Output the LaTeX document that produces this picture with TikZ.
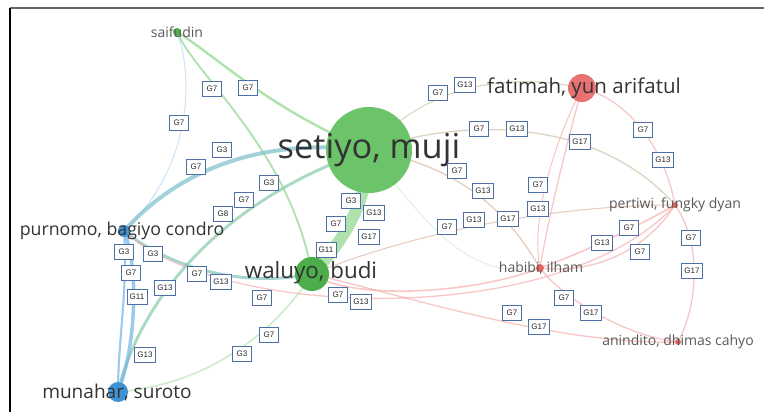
\documentclass[tikz,border=0pt]{standalone}
\usepackage{fontspec}
\setmainfont{Open Sans}
\newfontfamily\tagfont{Liberation Sans}
\usetikzlibrary{positioning}
\pgfdeclarelayer{background}
\pgfsetlayers{background,main}

\definecolor{vgreen}{HTML}{6CC46A}
\definecolor{vdkgreen}{HTML}{4CAE4A}
\definecolor{vblue}{HTML}{3F93D4}
\definecolor{vred}{HTML}{E56464}
\definecolor{glink}{HTML}{8ED58B}
\definecolor{blink}{HTML}{72B4E6}
\definecolor{rlink}{HTML}{F1A3A0}
\definecolor{olink}{HTML}{CFC2A6}
\definecolor{tagblue}{HTML}{4E6FA6}
\definecolor{nametext}{HTML}{333333}

\begin{document}
\begin{tikzpicture}[x=0.75pt, y=-0.75pt,
    author/.style={circle, inner sep=0pt, minimum size=#1},
    authorname/.style={font=\fontsize{#1}{#1}\selectfont, text=nametext},
    tag/.style={draw=tagblue, fill=white, line width=0.5pt, inner xsep=2pt, inner ysep=0pt,
      minimum height=11.5pt, minimum width=14.5pt, text=black!85, font=\tagfont\fontsize{6}{6}\selectfont},
    link/.style={line cap=round, opacity=0.7},
    redlink/.style={line cap=round, rlink, opacity=0.6}]
    \useasboundingbox (0,0) rectangle (764,412);

    % Frame
    \draw[black!60, line width=1.2pt] (10,8) -- (764,8);
    \draw[black, line width=0.8pt] (10,8) -- (10,412);

    % Authors
    \node[author=64.5pt, fill=vgreen] (setiyo) at (369,150) {};
    \node[author=21pt, fill=vred, opacity=0.9] (fatimah) at (582,88) {};
    \node[author=25.5pt, fill=vdkgreen] (waluyo) at (312,274) {};
    \node[author=9pt, fill=vblue] (purnomo) at (124,231) {};
    \node[author=15pt, fill=vblue] (munahar) at (118,392) {};
    \node[author=6pt, fill=vdkgreen] (saifudin) at (177,32) {};
    \node[author=4.5pt, fill=vred] (pertiwi) at (675,205) {};
    \node[author=6pt, fill=vred] (habibi) at (540,268) {};
    \node[author=4.5pt, fill=vred] (anindito) at (678,342) {};

    % Links
    \begin{pgfonlayer}{background}
      % green cluster
      \draw[link, glink, line width=1.8pt] (saifudin.center) .. controls (215,55) and (270,110) .. (setiyo.center);
      \draw[link, glink, line width=1.4pt] (saifudin.center) .. controls (195,75) and (290,150) .. (waluyo.center);
      \draw[link, blink!50, line width=0.8pt] (saifudin.center) .. controls (195,80) and (190,170) .. (purnomo.center);
      \draw[link, glink, line width=9pt] (waluyo.center) .. controls (345,240) and (368,200) .. (setiyo.center);
      \draw[link, glink!70!blink, line width=2.2pt] (munahar.center) .. controls (140,300) and (220,200) .. (setiyo.center);
      \draw[link, glink!60!white, line width=1.3pt] (munahar.center) .. controls (200,385) and (270,340) .. (waluyo.center);
      \draw[link, olink, line width=0.8pt] (setiyo.center) .. controls (420,90) and (500,70) .. (fatimah.center);
      \draw[link, olink, line width=1pt] (setiyo.center) .. controls (470,115) and (600,120) .. (pertiwi.center);
      \draw[link, olink!70!rlink, line width=1pt] (setiyo.center) .. controls (450,165) and (500,200) .. (habibi.center);
      \draw[link, glink!40!white, line width=0.8pt] (setiyo.center) .. controls (430,230) and (470,280) .. (habibi.center);
      % blue cluster
      \draw[link, blink!70!glink, line width=3pt] (purnomo.center) .. controls (165,185) and (240,135) .. (setiyo.center);
      \draw[link, blink, line width=2.6pt] (purnomo.center) .. controls (140,270) and (135,350) .. (munahar.center);
      \draw[link, blink, line width=1.6pt] (purnomo.center) .. controls (128,290) and (118,340) .. (munahar.center);
      \draw[link, blink!50!glink, line width=2.2pt] (purnomo.center) .. controls (160,260) and (230,290) .. (waluyo.center);
      \draw[redlink, line width=1pt] (purnomo.center) .. controls (220,320) and (560,330) .. (pertiwi.center);
      % red cluster
      \draw[link, olink!60!rlink, line width=0.8pt] (waluyo.center) .. controls (420,230) and (560,205) .. (pertiwi.center);
      \draw[redlink, line width=1.2pt] (waluyo.center) .. controls (350,300) and (470,295) .. (habibi.center);
      \draw[redlink, line width=1pt] (waluyo.center) .. controls (420,300) and (560,345) .. (anindito.center);
      \draw[redlink, line width=1pt] (fatimah.center) .. controls (565,150) and (548,220) .. (habibi.center);
      \draw[redlink, line width=0.8pt] (fatimah.center) .. controls (555,140) and (530,220) .. (habibi.center);
      \draw[redlink, line width=1pt] (fatimah.center) .. controls (630,100) and (665,150) .. (pertiwi.center);
      \draw[redlink, line width=1.2pt] (habibi.center) .. controls (590,250) and (640,225) .. (pertiwi.center);
      \draw[redlink, line width=1pt] (habibi.center) .. controls (600,275) and (650,245) .. (pertiwi.center);
      \draw[redlink, line width=1pt] (habibi.center) .. controls (560,295) and (620,335) .. (anindito.center);
      \draw[redlink, line width=1pt] (pertiwi.center) .. controls (700,240) and (700,300) .. (anindito.center);
    \end{pgfonlayer}

    % Author names
    \node[authorname=25.8pt] (setiyo-name) at (setiyo) {setiyo, muji};
    \node[authorname=15.4pt] (fatimah-name) at (584,88) {fatimah, yun arifatul};
    \node[authorname=16.8pt] (waluyo-name) at (311,273) {waluyo, budi};
    \node[authorname=13.3pt] (purnomo-name) at (122,231) {purnomo, bagiyo condro};
    \node[authorname=14.3pt] (munahar-name) at (117,392) {munahar, suroto};
    \node[authorname=10.5pt, text=black!65] (saifudin-name) at (177,32) {saifudin};
    \node[authorname=10.5pt, text=black!65] (pertiwi-name) at (675,205) {pertiwi, fungky dyan};
    \node[authorname=10.5pt, text=black!65] (habibi-name) at (541,268) {habibi, ilham};
    \node[authorname=10.5pt, text=black!65] (anindito-name) at (678,342) {anindito, dhimas cahyo};

    % Group tags on the links
    \foreach \x/\y/\g in {212/89/G7, 248/88/G7, 179/123/G7, 222/150/G3, 196/167/G7, 269/183/G3,
      244/200/G7, 223/214/G8, 438/93/G7, 465/85/G13, 479/129/G7, 517/129/G13, 580/142/G17,
      643/130/G7, 663/160/G13, 457/171/G7, 483/191/G13, 351/201/G3, 374/213/G13, 336/224/G7,
      369/237/G17, 326/250/G11, 538/185/G7, 538/209/G13, 508/219/G17, 474/220/G13, 447/227/G7,
      602/243/G13, 629/228/G7, 640/252/G7, 691/238/G7, 692/271/G17, 124/252/G3, 153/254/G3,
      131/273/G7, 137/297/G11, 165/288/G13, 197/274/G7, 221/282/G13, 262/298/G7, 338/295/G7,
      361/302/G13, 269/335/G7, 242/354/G3, 145/355/G13, 512/313/G7, 539/327/G17, 564/298/G7,
      591/313/G17} {
      \node[tag] (tag-\x-\y) at (\x,\y) {\g};
    }
  \end{tikzpicture}
\end{document}
